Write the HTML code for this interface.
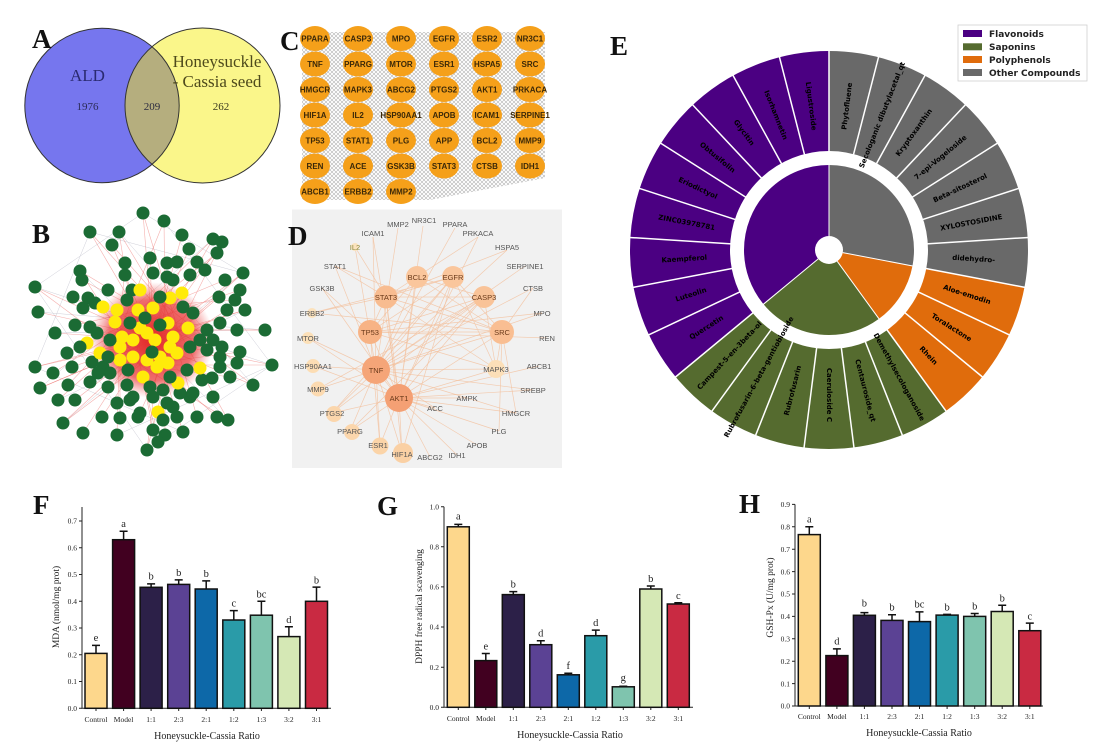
<!DOCTYPE html>
<html><head><meta charset="utf-8"><style>
html,body{margin:0;padding:0;background:#fff;}
svg{display:block;}
.serif{font-family:"Liberation Serif",serif;}
.sans{font-family:"Liberation Sans",sans-serif;}
.dj{font-family:"DejaVu Sans","Liberation Sans",sans-serif;font-weight:bold;}
.tick{font-family:"Liberation Serif",serif;font-size:7.5px;fill:#222;}
.let{font-family:"Liberation Serif",serif;font-size:10.5px;fill:#222;text-anchor:middle;}
.plab{font-family:"Liberation Serif",serif;font-weight:bold;font-size:27px;fill:#111;}
.cl{font-family:"Liberation Sans",sans-serif;font-weight:bold;font-size:8px;fill:#3b2808;text-anchor:middle;}
.dl{font-family:"Liberation Sans",sans-serif;font-size:7.5px;fill:#555;text-anchor:middle;}
.dn{font-family:"Liberation Sans",sans-serif;font-size:7.5px;fill:#6a3a1a;text-anchor:middle;}
.el{font-family:"DejaVu Sans","Liberation Sans",sans-serif;font-weight:bold;font-size:7px;fill:#000;text-anchor:middle;dominant-baseline:central;}
</style></head><body>
<svg width="1106" height="754" viewBox="0 0 1106 754" xmlns="http://www.w3.org/2000/svg">
<defs>
<clipPath id="blueclip"><circle cx="102" cy="105.5" r="77.2"/></clipPath>
<pattern id="mesh" width="4" height="4" patternUnits="userSpaceOnUse"><path d="M0,0 L4,4 M4,0 L0,4" stroke="#8e8e8e" stroke-width="0.55"/></pattern>
<radialGradient id="redg" cx="0.5" cy="0.5" r="0.5"><stop offset="0" stop-color="#e01818" stop-opacity="0.95"/><stop offset="0.7" stop-color="#e83030" stop-opacity="0.7"/><stop offset="1" stop-color="#f06060" stop-opacity="0"/></radialGradient>
</defs>

<!-- ============ PANEL A ============ -->
<circle cx="102" cy="105.5" r="77.2" fill="#7676EE"/>
<circle cx="202.5" cy="105.5" r="77.5" fill="#FAF68A"/>
<circle cx="202.5" cy="105.5" r="77.5" fill="#B5AE7E" clip-path="url(#blueclip)"/>
<circle cx="102" cy="105.5" r="77.2" fill="none" stroke="#333" stroke-width="1"/>
<circle cx="202.5" cy="105.5" r="77.5" fill="none" stroke="#333" stroke-width="1"/>
<text class="serif" x="87.5" y="81" font-size="17" fill="#2a2a70" text-anchor="middle">ALD</text>
<text class="serif" x="217" y="67" font-size="17" fill="#4e4a1c" text-anchor="middle">Honeysuckle</text>
<text class="serif" x="217" y="87" font-size="17" fill="#4e4a1c" text-anchor="middle">- Cassia seed</text>
<text class="serif" x="87.5" y="110" font-size="11" fill="#2b2b55" text-anchor="middle">1976</text>
<text class="serif" x="152" y="110" font-size="11" fill="#2b2b40" text-anchor="middle">209</text>
<text class="serif" x="221" y="110" font-size="11" fill="#3b3a20" text-anchor="middle">262</text>
<text class="plab" x="32" y="48">A</text>

<!-- ============ PANEL B ============ -->
<g stroke="#cfcfd8" stroke-width="0.5" fill="none">
<path d="M143,213L35,287M143,213L243,273M164,221L272,365M90,232L35,367M35,287L147,450M35,367L183,432M272,365L117,435M243,273L63,423M213,239L40,388M245,310L58,400M80,271L228,420M119,232L253,385M38,312L265,330M55,333L237,330M90,232L243,273M35,287L272,365M147,450L272,365"/>
</g>
<ellipse cx="152" cy="340" rx="62" ry="58" fill="url(#redg)"/>
<g stroke="#e53935" stroke-width="0.6" stroke-opacity="0.4" fill="none">
<path d="M153,340L143,213M120,330L164,221M178,330L90,232M140,365L119,232M165,305L112,245M153,340L182,235M120,330L213,239M178,330L222,242M140,365L189,249M165,305L217,253M153,340L150,258M120,330L125,263M178,330L80,271M140,365L243,273M165,305L225,280M153,340L35,287M120,330L240,290M178,330L82,280M140,365L219,297M165,305L235,300M153,340L73,297M120,330L38,312M178,330L245,310M140,365L227,310M165,305L75,325M153,340L55,333M120,330L237,330M178,330L265,330M140,365L240,352M165,305L67,353M153,340L35,367M120,330L53,373M178,330L72,367M140,365L272,365M165,305L237,363M153,340L40,388M120,330L68,385M178,330L253,385M140,365L230,377M165,305L58,400M153,340L75,400M120,330L217,417M178,330L228,420M140,365L63,423M165,305L83,433M153,340L102,417M120,330L120,418M178,330L138,417M140,365L153,430M165,305L165,435M153,340L183,432M120,330L117,435M178,330L147,450M140,365L158,442M165,305L197,417"/>
<path d="M178,330L143,213M153,340L90,232M140,365L213,239M153,340L243,273M140,365L35,287M120,330L265,330M153,340L272,365M178,330L35,367M120,330L253,385M165,305L147,450M153,340L63,423M140,365L228,420M178,330L40,388M140,365L80,271M153,340L222,242M165,305L164,221M178,330L119,232M153,340L112,245M120,330L217,253M153,340L245,310"/>
</g>
<g fill="#1B6B34">
<circle cx="143" cy="213" r="6.5"/><circle cx="164" cy="221" r="6.5"/><circle cx="90" cy="232" r="6.5"/><circle cx="119" cy="232" r="6.5"/><circle cx="112" cy="245" r="6.5"/><circle cx="182" cy="235" r="6.5"/><circle cx="213" cy="239" r="6.5"/><circle cx="222" cy="242" r="6.5"/><circle cx="189" cy="249" r="6.5"/><circle cx="217" cy="253" r="6.5"/><circle cx="150" cy="258" r="6.5"/><circle cx="125" cy="263" r="6.5"/><circle cx="167" cy="263" r="6.5"/><circle cx="177" cy="262" r="6.5"/><circle cx="197" cy="262" r="6.5"/><circle cx="205" cy="270" r="6.5"/><circle cx="80" cy="271" r="6.5"/><circle cx="243" cy="273" r="6.5"/><circle cx="225" cy="280" r="6.5"/><circle cx="35" cy="287" r="6.5"/><circle cx="240" cy="290" r="6.5"/><circle cx="82" cy="280" r="6.5"/><circle cx="125" cy="275" r="6.5"/><circle cx="153" cy="273" r="6.5"/><circle cx="167" cy="277" r="6.5"/><circle cx="173" cy="280" r="6.5"/><circle cx="190" cy="275" r="6.5"/><circle cx="219" cy="297" r="6.5"/><circle cx="235" cy="300" r="6.5"/><circle cx="73" cy="297" r="6.5"/><circle cx="38" cy="312" r="6.5"/><circle cx="245" cy="310" r="6.5"/><circle cx="227" cy="310" r="6.5"/><circle cx="95" cy="303" r="6.5"/><circle cx="108" cy="290" r="6.5"/><circle cx="132" cy="290" r="6.5"/><circle cx="88" cy="298" r="6.5"/><circle cx="83" cy="308" r="6.5"/><circle cx="75" cy="325" r="6.5"/><circle cx="55" cy="333" r="6.5"/><circle cx="237" cy="330" r="6.5"/><circle cx="220" cy="323" r="6.5"/><circle cx="265" cy="330" r="6.5"/><circle cx="240" cy="352" r="6.5"/><circle cx="222" cy="347" r="6.5"/><circle cx="67" cy="353" r="6.5"/><circle cx="90" cy="327" r="6.5"/><circle cx="35" cy="367" r="6.5"/><circle cx="53" cy="373" r="6.5"/><circle cx="72" cy="367" r="6.5"/><circle cx="272" cy="365" r="6.5"/><circle cx="237" cy="363" r="6.5"/><circle cx="220" cy="367" r="6.5"/><circle cx="92" cy="362" r="6.5"/><circle cx="103" cy="367" r="6.5"/><circle cx="40" cy="388" r="6.5"/><circle cx="68" cy="385" r="6.5"/><circle cx="90" cy="382" r="6.5"/><circle cx="253" cy="385" r="6.5"/><circle cx="230" cy="377" r="6.5"/><circle cx="212" cy="378" r="6.5"/><circle cx="58" cy="400" r="6.5"/><circle cx="75" cy="400" r="6.5"/><circle cx="108" cy="387" r="6.5"/><circle cx="190" cy="397" r="6.5"/><circle cx="213" cy="397" r="6.5"/><circle cx="217" cy="417" r="6.5"/><circle cx="228" cy="420" r="6.5"/><circle cx="63" cy="423" r="6.5"/><circle cx="83" cy="433" r="6.5"/><circle cx="102" cy="417" r="6.5"/><circle cx="120" cy="418" r="6.5"/><circle cx="138" cy="417" r="6.5"/><circle cx="153" cy="430" r="6.5"/><circle cx="165" cy="435" r="6.5"/><circle cx="183" cy="432" r="6.5"/><circle cx="117" cy="435" r="6.5"/><circle cx="147" cy="450" r="6.5"/><circle cx="158" cy="442" r="6.5"/><circle cx="197" cy="417" r="6.5"/><circle cx="173" cy="407" r="6.5"/><circle cx="117" cy="403" r="6.5"/><circle cx="130" cy="400" r="6.5"/><circle cx="180" cy="393" r="6.5"/><circle cx="202" cy="380" r="6.5"/>
</g>
<g fill="#FFEB0A">
<circle cx="103" cy="307" r="6.5"/><circle cx="117" cy="310" r="6.5"/><circle cx="115" cy="322" r="6.5"/><circle cx="138" cy="310" r="6.5"/><circle cx="153" cy="308" r="6.5"/><circle cx="170" cy="298" r="6.5"/><circle cx="182" cy="293" r="6.5"/><circle cx="140" cy="290" r="6.5"/><circle cx="188" cy="328" r="6.5"/><circle cx="87" cy="343" r="6.5"/><circle cx="100" cy="353" r="6.5"/><circle cx="122" cy="337" r="6.5"/><circle cx="120" cy="347" r="6.5"/><circle cx="133" cy="340" r="6.5"/><circle cx="147" cy="333" r="6.5"/><circle cx="155" cy="340" r="6.5"/><circle cx="168" cy="323" r="6.5"/><circle cx="170" cy="347" r="6.5"/><circle cx="160" cy="357" r="6.5"/><circle cx="147" cy="360" r="6.5"/><circle cx="120" cy="360" r="6.5"/><circle cx="133" cy="357" r="6.5"/><circle cx="177" cy="353" r="6.5"/><circle cx="157" cy="367" r="6.5"/><circle cx="168" cy="363" r="6.5"/><circle cx="143" cy="377" r="6.5"/><circle cx="178" cy="383" r="6.5"/><circle cx="200" cy="368" r="6.5"/><circle cx="158" cy="412" r="6.5"/><circle cx="140" cy="328" r="6.5"/><circle cx="173" cy="337" r="6.5"/>
</g>
<g fill="#1B6B34">
<circle cx="127" cy="300" r="6.5"/><circle cx="160" cy="297" r="6.5"/><circle cx="145" cy="318" r="6.5"/><circle cx="160" cy="325" r="6.5"/><circle cx="130" cy="323" r="6.5"/><circle cx="110" cy="340" r="6.5"/><circle cx="193" cy="313" r="6.5"/><circle cx="200" cy="340" r="6.5"/><circle cx="207" cy="350" r="6.5"/><circle cx="190" cy="347" r="6.5"/><circle cx="170" cy="377" r="6.5"/><circle cx="152" cy="352" r="6.5"/><circle cx="128" cy="370" r="6.5"/><circle cx="110" cy="373" r="6.5"/><circle cx="98" cy="373" r="6.5"/><circle cx="108" cy="357" r="6.5"/><circle cx="127" cy="385" r="6.5"/><circle cx="150" cy="387" r="6.5"/><circle cx="163" cy="390" r="6.5"/><circle cx="153" cy="397" r="6.5"/><circle cx="133" cy="397" r="6.5"/><circle cx="187" cy="370" r="6.5"/><circle cx="207" cy="330" r="6.5"/><circle cx="213" cy="340" r="6.5"/><circle cx="183" cy="307" r="6.5"/><circle cx="97" cy="333" r="6.5"/><circle cx="80" cy="347" r="6.5"/><circle cx="220" cy="357" r="6.5"/><circle cx="193" cy="393" r="6.5"/><circle cx="167" cy="403" r="6.5"/><circle cx="140" cy="413" r="6.5"/><circle cx="163" cy="420" r="6.5"/><circle cx="177" cy="417" r="6.5"/>
</g>
<text class="plab" x="32" y="243">B</text>

<!-- ============ PANEL C ============ -->
<text class="plab" x="280" y="50">C</text>
<polygon points="302,32 545,32 545,178 430,200 302,200" fill="url(#mesh)" opacity="0.7"/>
<g fill="#F5A01A">
<ellipse cx="315" cy="38.5" rx="15" ry="12.5"/><ellipse cx="358" cy="38.5" rx="15" ry="12.5"/><ellipse cx="401" cy="38.5" rx="15" ry="12.5"/><ellipse cx="444" cy="38.5" rx="15" ry="12.5"/><ellipse cx="487" cy="38.5" rx="15" ry="12.5"/><ellipse cx="530" cy="38.5" rx="15" ry="12.5"/>
<ellipse cx="315" cy="64" rx="15" ry="12.5"/><ellipse cx="358" cy="64" rx="15" ry="12.5"/><ellipse cx="401" cy="64" rx="15" ry="12.5"/><ellipse cx="444" cy="64" rx="15" ry="12.5"/><ellipse cx="487" cy="64" rx="15" ry="12.5"/><ellipse cx="530" cy="64" rx="15" ry="12.5"/>
<ellipse cx="315" cy="89.5" rx="15" ry="12.5"/><ellipse cx="358" cy="89.5" rx="15" ry="12.5"/><ellipse cx="401" cy="89.5" rx="15" ry="12.5"/><ellipse cx="444" cy="89.5" rx="15" ry="12.5"/><ellipse cx="487" cy="89.5" rx="15" ry="12.5"/><ellipse cx="530" cy="89.5" rx="15" ry="12.5"/>
<ellipse cx="315" cy="115" rx="15" ry="12.5"/><ellipse cx="358" cy="115" rx="15" ry="12.5"/><ellipse cx="401" cy="115" rx="15" ry="12.5"/><ellipse cx="444" cy="115" rx="15" ry="12.5"/><ellipse cx="487" cy="115" rx="15" ry="12.5"/><ellipse cx="530" cy="115" rx="15" ry="12.5"/>
<ellipse cx="315" cy="140.5" rx="15" ry="12.5"/><ellipse cx="358" cy="140.5" rx="15" ry="12.5"/><ellipse cx="401" cy="140.5" rx="15" ry="12.5"/><ellipse cx="444" cy="140.5" rx="15" ry="12.5"/><ellipse cx="487" cy="140.5" rx="15" ry="12.5"/><ellipse cx="530" cy="140.5" rx="15" ry="12.5"/>
<ellipse cx="315" cy="166" rx="15" ry="12.5"/><ellipse cx="358" cy="166" rx="15" ry="12.5"/><ellipse cx="401" cy="166" rx="15" ry="12.5"/><ellipse cx="444" cy="166" rx="15" ry="12.5"/><ellipse cx="487" cy="166" rx="15" ry="12.5"/><ellipse cx="530" cy="166" rx="15" ry="12.5"/>
<ellipse cx="315" cy="191.5" rx="15" ry="12.5"/><ellipse cx="358" cy="191.5" rx="15" ry="12.5"/><ellipse cx="401" cy="191.5" rx="15" ry="12.5"/>
</g>
<g class="cl">
<text class="cl" x="315" y="41.5">PPARA</text><text class="cl" x="358" y="41.5">CASP3</text><text class="cl" x="401" y="41.5">MPO</text><text class="cl" x="444" y="41.5">EGFR</text><text class="cl" x="487" y="41.5">ESR2</text><text class="cl" x="530" y="41.5">NR3C1</text>
<text class="cl" x="315" y="67">TNF</text><text class="cl" x="358" y="67">PPARG</text><text class="cl" x="401" y="67">MTOR</text><text class="cl" x="444" y="67">ESR1</text><text class="cl" x="487" y="67">HSPA5</text><text class="cl" x="530" y="67">SRC</text>
<text class="cl" x="315" y="92.5">HMGCR</text><text class="cl" x="358" y="92.5">MAPK3</text><text class="cl" x="401" y="92.5">ABCG2</text><text class="cl" x="444" y="92.5">PTGS2</text><text class="cl" x="487" y="92.5">AKT1</text><text class="cl" x="530" y="92.5">PRKACA</text>
<text class="cl" x="315" y="118">HIF1A</text><text class="cl" x="358" y="118">IL2</text><text class="cl" x="401" y="118">HSP90AA1</text><text class="cl" x="444" y="118">APOB</text><text class="cl" x="487" y="118">ICAM1</text><text class="cl" x="530" y="118">SERPINE1</text>
<text class="cl" x="315" y="143.5">TP53</text><text class="cl" x="358" y="143.5">STAT1</text><text class="cl" x="401" y="143.5">PLG</text><text class="cl" x="444" y="143.5">APP</text><text class="cl" x="487" y="143.5">BCL2</text><text class="cl" x="530" y="143.5">MMP9</text>
<text class="cl" x="315" y="169">REN</text><text class="cl" x="358" y="169">ACE</text><text class="cl" x="401" y="169">GSK3B</text><text class="cl" x="444" y="169">STAT3</text><text class="cl" x="487" y="169">CTSB</text><text class="cl" x="530" y="169">IDH1</text>
<text class="cl" x="315" y="194.5">ABCB1</text><text class="cl" x="358" y="194.5">ERBB2</text><text class="cl" x="401" y="194.5">MMP2</text>
</g>

<!-- ============ PANEL D ============ -->
<rect x="292" y="209.5" width="270" height="258.5" fill="#F1F1F1"/>
<g stroke="#F3BE98" stroke-width="0.7" stroke-opacity="0.75" fill="none">
<path d="M376,370L398,228M376,370L455,228M376,370L373,237M376,370L355,247M376,370L335,266M376,370L525,266M376,370L507,250M376,370L502,332M376,370L484,297M376,370L453,277M376,370L417,277M376,370L496,369M376,370L399,398M376,370L318,389M376,370L332,413M376,370L350,431M376,370L380,445M376,370L402,453M376,370L516,413M376,370L533,390M376,370L542,313M376,370L533,288M376,370L435,408M376,370L467,398M376,370L313,366M376,370L308,338"/>
<path d="M399,398L373,237M399,398L478,237M399,398L423,226M399,398L386,297M399,398L370,332M399,398L502,332M399,398L484,297M399,398L453,277M399,398L417,277M399,398L496,369M399,398L313,366M399,398L308,338M399,398L322,288M399,398L380,445M399,398L350,431M399,398L332,413M399,398L402,453M399,398L430,457M399,398L477,445M399,398L457,455M399,398L499,431M399,398L533,390M399,398L467,398M399,398L435,408M399,398L516,413M399,398L539,366"/>
<path d="M386,297L453,277M386,297L502,332M386,297L370,332M386,297L484,297M386,297L507,250M386,297L478,237M386,297L496,369M386,297L355,247M386,297L335,266M386,297L312,313M386,297L402,453M370,332L502,332M370,332L496,369M370,332L484,297M370,332L417,277M370,332L453,277M370,332L542,313M370,332L547,338M370,332L380,445M370,332L322,288M502,332L453,277M502,332L417,277M502,332L335,266M502,332L312,313M502,332L496,369M502,332L499,431M502,332L516,413M502,332L533,288M484,297L417,277M484,297L496,369M484,297L350,431M484,297L332,413M484,297L318,389M453,277L312,313M453,277L496,369M453,277L402,453M453,277L332,413"/>
</g>
<g>
<circle cx="355" cy="247" r="4" fill="#FBE3BE"/><circle cx="312" cy="313" r="5" fill="#FCE2BC"/><circle cx="308" cy="338" r="6" fill="#FCE0B8"/><circle cx="313" cy="366" r="7" fill="#FCDDB4"/><circle cx="318" cy="389" r="7.5" fill="#FCDAB0"/><circle cx="334" cy="414" r="8" fill="#FBD6AC"/><circle cx="352" cy="432" r="8" fill="#FBD6AC"/><circle cx="380" cy="446" r="8.5" fill="#FBD4A8"/><circle cx="403" cy="453" r="10" fill="#FAD0A4"/><circle cx="496" cy="369" r="9" fill="#FCDFB8"/>
<circle cx="417" cy="277" r="11" fill="#FAC69C"/><circle cx="453" cy="277" r="11" fill="#FAC69C"/><circle cx="484" cy="297" r="11" fill="#F9C398"/><circle cx="386" cy="297" r="11.5" fill="#F8BC90"/><circle cx="370" cy="332" r="12" fill="#F7B385"/><circle cx="502" cy="332" r="12" fill="#F9BE92"/><circle cx="376" cy="370" r="14" fill="#F5A578"/><circle cx="399" cy="398" r="14" fill="#F4A074"/>
</g>
<g>
<text class="dl" x="398" y="227">MMP2</text><text class="dl" x="424" y="223" font-size="6.5">NR3C1</text><text class="dl" x="455" y="227">PPARA</text><text class="dl" x="373" y="236">ICAM1</text><text class="dl" x="478" y="236">PRKACA</text><text class="dl" x="355" y="250" style="fill:#8a8a40">IL2</text><text class="dl" x="507" y="250">HSPA5</text><text class="dl" x="335" y="269">STAT1</text><text class="dl" x="525" y="269">SERPINE1</text><text class="dl" x="322" y="291">GSK3B</text><text class="dl" x="533" y="291">CTSB</text><text class="dl" x="312" y="316">ERBB2</text><text class="dl" x="542" y="316">MPO</text><text class="dl" x="308" y="341">MTOR</text><text class="dl" x="547" y="341">REN</text><text class="dl" x="313" y="369">HSP90AA1</text><text class="dl" x="539" y="369">ABCB1</text><text class="dl" x="318" y="392">MMP9</text><text class="dl" x="533" y="393">SREBP</text><text class="dl" x="467" y="401">AMPK</text><text class="dl" x="435" y="411">ACC</text><text class="dl" x="332" y="416">PTGS2</text><text class="dl" x="516" y="416">HMGCR</text><text class="dl" x="350" y="434">PPARG</text><text class="dl" x="499" y="434">PLG</text><text class="dl" x="378" y="448">ESR1</text><text class="dl" x="402" y="457">HIF1A</text><text class="dl" x="430" y="460" font-size="6.5">ABCG2</text><text class="dl" x="457" y="458" font-size="6.5">IDH1</text><text class="dl" x="477" y="448">APOB</text><text class="dl" x="496" y="372">MAPK3</text>
<text class="dn" x="417" y="280">BCL2</text><text class="dn" x="453" y="280">EGFR</text><text class="dn" x="484" y="300">CASP3</text><text class="dn" x="386" y="300">STAT3</text><text class="dn" x="370" y="335">TP53</text><text class="dn" x="502" y="335">SRC</text><text class="dn" x="376" y="373">TNF</text><text class="dn" x="399" y="401">AKT1</text>
</g>
<text class="plab" x="288" y="245">D</text>

<!-- ============ PANEL E ============ -->
<text class="plab" x="610" y="55">E</text>
<g transform="rotate(-90 829 250)" fill="none">
<circle cx="829" cy="250" r="149" stroke="#696969" stroke-width="100" stroke-dasharray="262.13 936.19" stroke-dashoffset="0"/>
<circle cx="829" cy="250" r="149" stroke="#E06C0C" stroke-width="100" stroke-dasharray="112.34 936.19" stroke-dashoffset="-262.13"/>
<circle cx="829" cy="250" r="149" stroke="#556B2F" stroke-width="100" stroke-dasharray="224.69 936.19" stroke-dashoffset="-374.47"/>
<circle cx="829" cy="250" r="149" stroke="#4B0082" stroke-width="100" stroke-dasharray="337.03 936.19" stroke-dashoffset="-599.16"/>
<circle cx="829" cy="250" r="42.5" stroke="#696969" stroke-width="85" stroke-dasharray="74.77 267.04" stroke-dashoffset="0"/>
<circle cx="829" cy="250" r="42.5" stroke="#E06C0C" stroke-width="85" stroke-dasharray="32.04 267.04" stroke-dashoffset="-74.77"/>
<circle cx="829" cy="250" r="42.5" stroke="#556B2F" stroke-width="85" stroke-dasharray="64.09 267.04" stroke-dashoffset="-106.81"/>
<circle cx="829" cy="250" r="42.5" stroke="#4B0082" stroke-width="85" stroke-dasharray="96.13 267.04" stroke-dashoffset="-170.90"/>
</g>
<g stroke="#fff" stroke-width="1.5">
<line x1="829" y1="152" x2="829" y2="50" transform="rotate(0 829 250)"/>
<line x1="829" y1="152" x2="829" y2="50" transform="rotate(14.4 829 250)"/>
<line x1="829" y1="152" x2="829" y2="50" transform="rotate(28.8 829 250)"/>
<line x1="829" y1="152" x2="829" y2="50" transform="rotate(43.2 829 250)"/>
<line x1="829" y1="152" x2="829" y2="50" transform="rotate(57.6 829 250)"/>
<line x1="829" y1="152" x2="829" y2="50" transform="rotate(72 829 250)"/>
<line x1="829" y1="152" x2="829" y2="50" transform="rotate(86.4 829 250)"/>
<line x1="829" y1="152" x2="829" y2="50" transform="rotate(100.8 829 250)"/>
<line x1="829" y1="152" x2="829" y2="50" transform="rotate(115.2 829 250)"/>
<line x1="829" y1="152" x2="829" y2="50" transform="rotate(129.6 829 250)"/>
<line x1="829" y1="152" x2="829" y2="50" transform="rotate(144 829 250)"/>
<line x1="829" y1="152" x2="829" y2="50" transform="rotate(158.4 829 250)"/>
<line x1="829" y1="152" x2="829" y2="50" transform="rotate(172.8 829 250)"/>
<line x1="829" y1="152" x2="829" y2="50" transform="rotate(187.2 829 250)"/>
<line x1="829" y1="152" x2="829" y2="50" transform="rotate(201.6 829 250)"/>
<line x1="829" y1="152" x2="829" y2="50" transform="rotate(216 829 250)"/>
<line x1="829" y1="152" x2="829" y2="50" transform="rotate(230.4 829 250)"/>
<line x1="829" y1="152" x2="829" y2="50" transform="rotate(244.8 829 250)"/>
<line x1="829" y1="152" x2="829" y2="50" transform="rotate(259.2 829 250)"/>
<line x1="829" y1="152" x2="829" y2="50" transform="rotate(273.6 829 250)"/>
<line x1="829" y1="152" x2="829" y2="50" transform="rotate(288 829 250)"/>
<line x1="829" y1="152" x2="829" y2="50" transform="rotate(302.4 829 250)"/>
<line x1="829" y1="152" x2="829" y2="50" transform="rotate(316.8 829 250)"/>
<line x1="829" y1="152" x2="829" y2="50" transform="rotate(331.2 829 250)"/>
<line x1="829" y1="152" x2="829" y2="50" transform="rotate(345.6 829 250)"/>
<line x1="829" y1="236" x2="829" y2="164" stroke-width="1" transform="rotate(0 829 250)"/>
<line x1="829" y1="236" x2="829" y2="164" stroke-width="1" transform="rotate(100.8 829 250)"/>
<line x1="829" y1="236" x2="829" y2="164" stroke-width="1" transform="rotate(144 829 250)"/>
<line x1="829" y1="236" x2="829" y2="164" stroke-width="1" transform="rotate(230.4 829 250)"/>
</g>
<circle cx="829" cy="250" r="14" fill="#fff"/>
<g>
<text class="el" x="847.2" y="106.2" transform="rotate(-82.8 847.2 106.2)">Phytofluene</text>
<text class="el" x="882.4" y="115.1" transform="rotate(-68.4 882.4 115.1)">Secologanic dibutylacetal_qt</text>
<text class="el" x="914.2" y="132.7" transform="rotate(-54 914.2 132.7)">Kryptoxanthin</text>
<text class="el" x="940.7" y="157.6" transform="rotate(-39.6 940.7 157.6)">7-epi-Vogeloside</text>
<text class="el" x="960.2" y="188.3" transform="rotate(-25.2 960.2 188.3)">Beta-sitosterol</text>
<text class="el" x="971.4" y="222.8" transform="rotate(-10.8 971.4 222.8)">XYLOSTOSIDINE</text>
<text class="el" x="973.7" y="259.1" transform="rotate(3.6 973.7 259.1)">didehydro-</text>
<text class="el" x="966.9" y="294.8" transform="rotate(18 966.9 294.8)">Aloe-emodin</text>
<text class="el" x="951.4" y="327.7" transform="rotate(32.4 951.4 327.7)">Toralactone</text>
<text class="el" x="928.3" y="355.7" transform="rotate(46.8 928.3 355.7)">Rhein</text>
<text class="el" x="898.9" y="377.1" transform="rotate(61.2 898.9 377.1)">Demethylsecologanoside</text>
<text class="el" x="865.1" y="390.5" transform="rotate(75.6 865.1 390.5)">Centauroside_qt</text>
<text class="el" x="829" y="395" transform="rotate(90 829 395)">Caeruloside C</text>
<text class="el" x="792.9" y="390.5" transform="rotate(-75.6 792.9 390.5)">Rubrofusarin</text>
<text class="el" x="759.1" y="377.1" transform="rotate(-61.2 759.1 377.1)">Rubrofusarin-6-beta-gentiobioside</text>
<text class="el" x="729.7" y="355.7" transform="rotate(-46.8 729.7 355.7)">Campest-5-en-3beta-ol</text>
<text class="el" x="706.6" y="327.7" transform="rotate(-32.4 706.6 327.7)">Quercetin</text>
<text class="el" x="691.1" y="294.8" transform="rotate(-18 691.1 294.8)">Luteolin</text>
<text class="el" x="684.3" y="259.1" transform="rotate(-3.6 684.3 259.1)">Kaempferol</text>
<text class="el" x="686.6" y="222.8" transform="rotate(10.8 686.6 222.8)">ZINC03978781</text>
<text class="el" x="697.8" y="188.3" transform="rotate(25.2 697.8 188.3)">Eriodictyol</text>
<text class="el" x="717.3" y="157.6" transform="rotate(39.6 717.3 157.6)">Obtusifolin</text>
<text class="el" x="743.8" y="132.7" transform="rotate(54 743.8 132.7)">Glycitin</text>
<text class="el" x="775.6" y="115.1" transform="rotate(68.4 775.6 115.1)">Isorhamnetin</text>
<text class="el" x="810.8" y="106.2" transform="rotate(82.8 810.8 106.2)">Ligustroside</text>
</g>
<rect x="958" y="25" width="129" height="56" fill="#fff" stroke="#d0d0d0" stroke-width="0.8"/>
<rect x="963" y="30" width="19" height="7" fill="#4B0082"/>
<rect x="963" y="43.3" width="19" height="7" fill="#556B2F"/>
<rect x="963" y="56" width="19" height="7" fill="#E06C0C"/>
<rect x="963" y="69" width="19" height="7" fill="#696969"/>
<text class="dj" x="989" y="36.8" font-size="9" fill="#222">Flavonoids</text>
<text class="dj" x="989" y="50" font-size="9" fill="#222">Saponins</text>
<text class="dj" x="989" y="62.8" font-size="9" fill="#222">Polyphenols</text>
<text class="dj" x="989" y="75.8" font-size="9" fill="#222">Other Compounds</text>

<!-- ============ PANEL F ============ -->
<text class="plab" x="33" y="514">F</text>
<g stroke="#222" stroke-width="1" fill="none">
<path d="M82,507V708.3H331"/>
<path d="M79,708.3H82M79,681.5H82M79,654.8H82M79,628H82M79,601.3H82M79,574.5H82M79,547.7H82M79,521H82"/>
<path d="M96,708.3V711M123.6,708.3V711M151.1,708.3V711M178.7,708.3V711M206.2,708.3V711M233.8,708.3V711M261.4,708.3V711M288.9,708.3V711M316.5,708.3V711"/>
</g>
<g class="tick" text-anchor="end">
<text x="77" y="711">0.0</text><text x="77" y="684.2">0.1</text><text x="77" y="657.5">0.2</text><text x="77" y="630.7">0.3</text><text x="77" y="604">0.4</text><text x="77" y="577.2">0.5</text><text x="77" y="550.4">0.6</text><text x="77" y="523.7">0.7</text>
</g>
<g stroke="#111" stroke-width="1.5">
<rect x="85" y="653.4" width="22" height="54.9" fill="#FDD78C"/>
<rect x="112.6" y="539.7" width="22" height="168.6" fill="#410020"/>
<rect x="140.1" y="587.3" width="22" height="121" fill="#2C2048"/>
<rect x="167.7" y="584.4" width="22" height="123.9" fill="#5B4294"/>
<rect x="195.2" y="589" width="22" height="119.3" fill="#0D68A8"/>
<rect x="222.8" y="620" width="22" height="88.3" fill="#2A9BA8"/>
<rect x="250.4" y="615.2" width="22" height="93.1" fill="#7FC4AE"/>
<rect x="277.9" y="636.6" width="22" height="71.7" fill="#D5E8B5"/>
<rect x="305.5" y="601.3" width="22" height="107" fill="#C92A42"/>
</g>
<g stroke="#111" stroke-width="1.5" fill="none">
<path d="M96,653.4V645.4M92,645.4H100M123.6,539.7V531.2M119.6,531.2H127.6M151.1,587.3V583.9M147.1,583.9H155.1M178.7,584.4V579.9M174.7,579.9H182.7M206.2,589V580.9M202.2,580.9H210.2M233.8,620V610.6M229.8,610.6H237.8M261.4,615.2V601.3M257.4,601.3H265.4M288.9,636.6V626.7M284.9,626.7H292.9M316.5,601.3V587.1M312.5,587.1H320.5"/>
</g>
<g class="let">
<text x="96" y="641">e</text><text x="123.6" y="527">a</text><text x="151.1" y="579.5">b</text><text x="178.7" y="576">b</text><text x="206.2" y="577">b</text><text x="233.8" y="606.5">c</text><text x="261.4" y="597.5">bc</text><text x="288.9" y="623">d</text><text x="316.5" y="583.5">b</text>
</g>
<g class="tick" text-anchor="middle">
<text x="96" y="722">Control</text><text x="123.6" y="722">Model</text><text x="151.1" y="722">1:1</text><text x="178.7" y="722">2:3</text><text x="206.2" y="722">2:1</text><text x="233.8" y="722">1:2</text><text x="261.4" y="722">1:3</text><text x="288.9" y="722">3:2</text><text x="316.5" y="722">3:1</text>
</g>
<text class="serif" x="207" y="739" font-size="10" fill="#222" text-anchor="middle">Honeysuckle-Cassia Ratio</text>
<text class="serif" x="57" y="607" font-size="9.5" fill="#222" text-anchor="middle" dominant-baseline="central" transform="rotate(-90 57 607)">MDA (nmol/mg prot)</text>

<!-- ============ PANEL G ============ -->
<text class="plab" x="377" y="515">G</text>
<g stroke="#222" stroke-width="1" fill="none">
<path d="M444,506.7V707.3H693"/>
<path d="M441,707.3H444M441,667.2H444M441,627H444M441,586.9H444M441,546.8H444M441,506.7H444"/>
<path d="M458.3,707.3V710M485.8,707.3V710M513.3,707.3V710M540.8,707.3V710M568.3,707.3V710M595.8,707.3V710M623.3,707.3V710M650.8,707.3V710M678.3,707.3V710"/>
</g>
<g class="tick" text-anchor="end">
<text x="439" y="710">0.0</text><text x="439" y="669.9">0.2</text><text x="439" y="629.7">0.4</text><text x="439" y="589.6">0.6</text><text x="439" y="549.5">0.8</text><text x="439" y="509.4">1.0</text>
</g>
<g stroke="#111" stroke-width="1.5">
<rect x="447.3" y="526.8" width="22" height="180.5" fill="#FDD78C"/>
<rect x="474.8" y="660.6" width="22" height="46.7" fill="#410020"/>
<rect x="502.3" y="594.6" width="22" height="112.7" fill="#2C2048"/>
<rect x="529.8" y="644.7" width="22" height="62.6" fill="#5B4294"/>
<rect x="557.3" y="674.8" width="22" height="32.5" fill="#0D68A8"/>
<rect x="584.8" y="635.7" width="22" height="71.6" fill="#2A9BA8"/>
<rect x="612.3" y="686.8" width="22" height="20.5" fill="#7FC4AE"/>
<rect x="639.8" y="589" width="22" height="118.3" fill="#D5E8B5"/>
<rect x="667.3" y="604" width="22" height="103.3" fill="#C92A42"/>
</g>
<g stroke="#111" stroke-width="1.5" fill="none">
<path d="M458.3,526.8V524.4M454.3,524.4H462.3M485.8,660.6V653.5M481.8,653.5H489.8M513.3,594.6V591.6M509.3,591.6H517.3M540.8,644.7V640.7M536.8,640.7H544.8M568.3,674.8V673.2M564.3,673.2H572.3M595.8,635.7V630.1M591.8,630.1H599.8M623.3,686.8V686.2M619.3,686.2H627.3M650.8,589V586M646.8,586H654.8M678.3,604V602.8M674.3,602.8H682.3"/>
</g>
<g class="let">
<text x="458.3" y="519.5">a</text><text x="485.8" y="649.5">e</text><text x="513.3" y="587.5">b</text><text x="540.8" y="636.5">d</text><text x="568.3" y="669">f</text><text x="595.8" y="626">d</text><text x="623.3" y="681">g</text><text x="650.8" y="582">b</text><text x="678.3" y="599">c</text>
</g>
<g class="tick" text-anchor="middle">
<text x="458.3" y="721">Control</text><text x="485.8" y="721">Model</text><text x="513.3" y="721">1:1</text><text x="540.8" y="721">2:3</text><text x="568.3" y="721">2:1</text><text x="595.8" y="721">1:2</text><text x="623.3" y="721">1:3</text><text x="650.8" y="721">3:2</text><text x="678.3" y="721">3:1</text>
</g>
<text class="serif" x="570" y="738" font-size="10" fill="#222" text-anchor="middle">Honeysuckle-Cassia Ratio</text>
<text class="serif" x="420" y="606.5" font-size="9.5" fill="#222" text-anchor="middle" dominant-baseline="central" transform="rotate(-90 420 606.5)">DPPH free radical scavenging</text>

<!-- ============ PANEL H ============ -->
<text class="plab" x="739" y="513">H</text>
<g stroke="#222" stroke-width="1" fill="none">
<path d="M795,504.4V706H1043"/>
<path d="M792,706H795M792,683.6H795M792,661.2H795M792,638.8H795M792,616.4H795M792,594H795M792,571.6H795M792,549.2H795M792,526.8H795M792,504.4H795"/>
<path d="M809.3,706V709M836.9,706V709M864.4,706V709M892,706V709M919.5,706V709M947.1,706V709M974.7,706V709M1002.2,706V709M1029.8,706V709"/>
</g>
<g class="tick" text-anchor="end">
<text x="790" y="708.7">0.0</text><text x="790" y="686.3">0.1</text><text x="790" y="663.9">0.2</text><text x="790" y="641.5">0.3</text><text x="790" y="619.1">0.4</text><text x="790" y="596.7">0.5</text><text x="790" y="574.3">0.6</text><text x="790" y="551.9">0.7</text><text x="790" y="529.5">0.8</text><text x="790" y="507.1">0.9</text>
</g>
<g stroke="#111" stroke-width="1.5">
<rect x="798.3" y="534.6" width="22" height="171.4" fill="#FDD78C"/>
<rect x="825.9" y="655.6" width="22" height="50.4" fill="#410020"/>
<rect x="853.4" y="615.3" width="22" height="90.7" fill="#2C2048"/>
<rect x="881" y="620.4" width="22" height="85.6" fill="#5B4294"/>
<rect x="908.5" y="621.6" width="22" height="84.4" fill="#0D68A8"/>
<rect x="936.1" y="615.1" width="22" height="90.9" fill="#2A9BA8"/>
<rect x="963.7" y="616.4" width="22" height="89.6" fill="#7FC4AE"/>
<rect x="991.2" y="611.5" width="22" height="94.5" fill="#D5E8B5"/>
<rect x="1018.8" y="630.7" width="22" height="75.3" fill="#C92A42"/>
</g>
<g stroke="#111" stroke-width="1.5" fill="none">
<path d="M809.3,534.6V526.8M805.3,526.8H813.3M836.9,655.6V648.9M832.9,648.9H840.9M864.4,615.3V612.6M860.4,612.6H868.4M892,620.4V614.8M888,614.8H896M919.5,621.6V611.9M915.5,611.9H923.5M947.1,615.1V614.4M943.1,614.4H951.1M974.7,616.4V613.5M970.7,613.5H978.7M1002.2,611.5V605.2M998.2,605.2H1006.2M1029.8,630.7V623.1M1025.8,623.1H1033.8"/>
</g>
<g class="let">
<text x="809.3" y="522.5">a</text><text x="836.9" y="644.5">d</text><text x="864.4" y="606.5">b</text><text x="892" y="610.5">b</text><text x="919.5" y="607.5">bc</text><text x="947.1" y="610.5">b</text><text x="974.7" y="609.5">b</text><text x="1002.2" y="601.5">b</text><text x="1029.8" y="619.5">c</text>
</g>
<g class="tick" text-anchor="middle">
<text x="809.3" y="719">Control</text><text x="836.9" y="719">Model</text><text x="864.4" y="719">1:1</text><text x="892" y="719">2:3</text><text x="919.5" y="719">2:1</text><text x="947.1" y="719">1:2</text><text x="974.7" y="719">1:3</text><text x="1002.2" y="719">3:2</text><text x="1029.8" y="719">3:1</text>
</g>
<text class="serif" x="919" y="736" font-size="10" fill="#222" text-anchor="middle">Honeysuckle-Cassia Ratio</text>
<text class="serif" x="771" y="597.5" font-size="9.5" fill="#222" text-anchor="middle" dominant-baseline="central" transform="rotate(-90 771 597.5)">GSH-Px (U/mg prot)</text>
</svg>
</body></html>
